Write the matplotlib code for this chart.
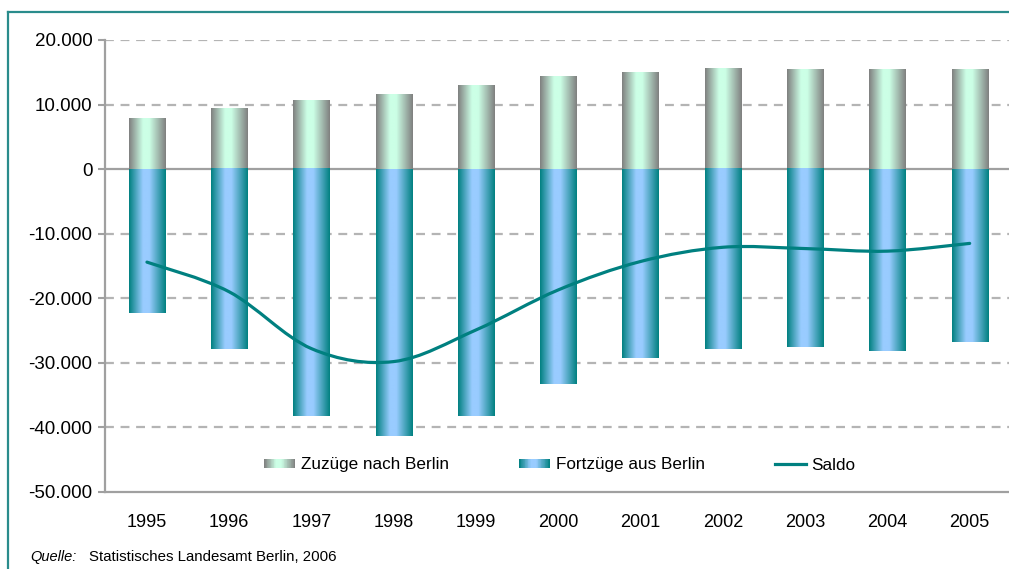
import numpy as np
import matplotlib
matplotlib.use("Agg")
import matplotlib.pyplot as plt
from matplotlib.colors import LinearSegmentedColormap
from matplotlib.legend_handler import HandlerBase
from matplotlib.patches import Rectangle
from matplotlib.lines import Line2D
from matplotlib.path import Path
from matplotlib.patches import PathPatch

plt.rcParams["font.family"] = ["Liberation Sans", "DejaVu Sans"]

# Daten (Wanderungen Berlin)
years = ["1995", "1996", "1997", "1998", "1999", "2000", "2001", "2002", "2003", "2004", "2005"]
zuzuege = [7800, 9300, 10600, 11600, 13000, 14400, 14900, 15600, 15400, 15400, 15400]
fortzuege = [-22300, -27900, -38300, -41300, -38200, -33200, -29200, -27900, -27600, -28100, -26700]
saldo = [-14400, -19000, -27800, -29800, -24900, -18700, -14300, -12100, -12300, -12700, -11500]

y_ticks = [20000, 10000, 0, -10000, -20000, -30000, -40000, -50000]
y_labels = ["20.000", "10.000", "0", "-10.000", "-20.000", "-30.000", "-40.000", "-50.000"]

TEAL = "#008080"
GRAY = "#A0A0A0"

# Farbverlaeufe der Balken (dunkel - hell - dunkel)
stops = [0.0, 0.38, 0.55, 1.0]
cmap_zu = LinearSegmentedColormap.from_list(
    "zu", list(zip(stops, ["#7F7F7F", "#CCFFE6", "#CCFFE6", "#7F7F7F"])))
cmap_fort = LinearSegmentedColormap.from_list(
    "fort", list(zip(stops, [TEAL, "#99CCFF", "#99CCFF", TEAL])))


class GradientHandler(HandlerBase):
    def __init__(self, cmap, n=40):
        super().__init__()
        self.cmap = cmap
        self.n = n

    def create_artists(self, legend, orig_handle, xdescent, ydescent,
                       width, height, fontsize, trans):
        arts = []
        for i in range(self.n):
            r = Rectangle((-xdescent + i * width / self.n, -ydescent + height * 0.1),
                          width / self.n * 1.05, height * 0.8,
                          facecolor=self.cmap((i + 0.5) / self.n),
                          edgecolor="none", transform=trans)
            arts.append(r)
        return arts


fig = plt.figure(figsize=(10.09, 5.69), dpi=100)
ax = fig.add_axes([105 / 1009, 77 / 569, 905 / 1009, 452 / 569])

x = np.arange(len(years))
w = 0.44
grad = np.linspace(0, 1, 256).reshape(1, -1)
for xi, zu, fo in zip(x, zuzuege, fortzuege):
    ax.imshow(grad, cmap=cmap_zu, extent=(xi - w / 2, xi + w / 2, 0, zu),
              aspect="auto", zorder=2, interpolation="bilinear")
    ax.imshow(grad, cmap=cmap_fort, extent=(xi - w / 2, xi + w / 2, fo, 0),
              aspect="auto", zorder=2, interpolation="bilinear")

# geglaettete Saldo-Linie (Catmull-Rom als Bezier)
pts = np.column_stack([x, saldo]).astype(float)
ext = np.vstack([pts[0], pts, pts[-1]])
verts = [tuple(pts[0])]
codes = [Path.MOVETO]
for i in range(len(pts) - 1):
    p0, p1, p2, p3 = ext[i], ext[i + 1], ext[i + 2], ext[i + 3]
    c1 = p1 + (p2 - p0) / 6
    c2 = p2 - (p3 - p1) / 6
    verts += [tuple(c1), tuple(c2), tuple(p2)]
    codes += [Path.CURVE4] * 3
ax.add_patch(PathPatch(Path(verts, codes), facecolor="none", edgecolor=TEAL,
                       lw=2.3, zorder=4, capstyle="round"))

ax.set_xlim(-0.51, 10.49)
ax.set_ylim(-50000, 20000)
ax.set_yticks(y_ticks)
ax.set_yticklabels(y_labels, fontsize=13.5)
ax.set_xticks(x)
ax.set_xticklabels(years, fontsize=13)
ax.tick_params(axis="x", length=0, pad=16)
ax.tick_params(axis="y", length=5, width=1.5, color=GRAY, pad=4)

for t in y_ticks[:2] + y_ticks[3:-1]:
    ax.axhline(t, color="#B4B4B4", lw=1.6, ls=(0, (4, 3)), zorder=1)
ax.axhline(0, color=GRAY, lw=1.6, zorder=1)

for s in ["top", "right"]:
    ax.spines[s].set_visible(False)
ax.spines["left"].set_color(GRAY)
ax.spines["left"].set_linewidth(1.6)
ax.spines["bottom"].set_color(GRAY)
ax.spines["bottom"].set_linewidth(1.6)

h_zu = Rectangle((0, 0), 1, 1)
h_fo = Rectangle((0, 0), 1, 1)
h_sa = Line2D([], [], color=TEAL, lw=2.3)
fig.legend([h_zu, h_fo, h_sa],
           ["Zuzüge nach Berlin", "Fortzüge aus Berlin", "Saldo"],
           handler_map={h_zu: GradientHandler(cmap_zu), h_fo: GradientHandler(cmap_fort)},
           loc="center", bbox_to_anchor=(560 / 1009, 1 - 465 / 569), ncol=3,
           frameon=False, fontsize=12.3, handlelength=1.8, handletextpad=0.35,
           columnspacing=4.1)

fig.text(30 / 1009, 1 - 557 / 569, "Quelle:", fontsize=10.5, style="italic", va="center")
fig.text(89 / 1009, 1 - 557 / 569, "Statistisches Landesamt Berlin, 2006", fontsize=10.8, va="center")

# Rahmen der Grafik
fig.add_artist(Line2D([8 / 1009, 8 / 1009], [0, 1 - 12 / 569], color="#2A8C8C", lw=1.6,
                      transform=fig.transFigure))
fig.add_artist(Line2D([8 / 1009, 1], [1 - 12 / 569, 1 - 12 / 569], color="#2A8C8C", lw=1.6,
                      transform=fig.transFigure))

fig.savefig("out.png", dpi=100)
